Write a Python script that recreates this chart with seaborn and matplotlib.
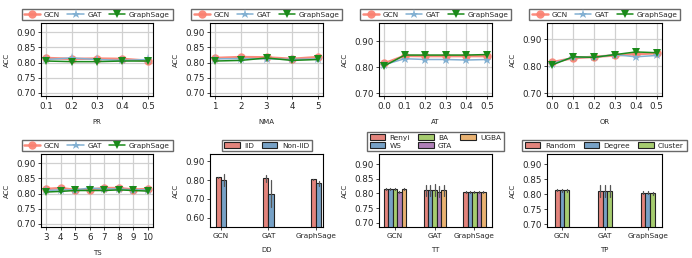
import matplotlib
matplotlib.use("Agg")
import matplotlib.pyplot as plt
import seaborn as sns
import pandas as pd

sns.set_style("ticks")
plt.rcParams['font.family'] = ['DejaVu Sans']

models = ["GCN", "GAT", "GraphSage"]

# ---- line panels ----
pr_x = [0.1, 0.2, 0.3, 0.4, 0.5]
pr_gcn = [0.815, 0.812, 0.813, 0.812, 0.806]
pr_gat = [0.810, 0.815, 0.810, 0.807, 0.810]
pr_sage = [0.805, 0.803, 0.803, 0.805, 0.805]

nma_x = [1, 2, 3, 4, 5]
nma_gcn = [0.815, 0.818, 0.817, 0.812, 0.818]
nma_gat = [0.812, 0.813, 0.812, 0.810, 0.812]
nma_sage = [0.805, 0.807, 0.815, 0.807, 0.810]

at_x = [0.0, 0.1, 0.2, 0.3, 0.4, 0.5]
at_gcn = [0.815, 0.844, 0.843, 0.843, 0.843, 0.843]
at_gat = [0.810, 0.833, 0.830, 0.830, 0.828, 0.830]
at_sage = [0.805, 0.847, 0.847, 0.847, 0.847, 0.849]

or_x = [0.0, 0.1, 0.2, 0.3, 0.4, 0.5]
or_gcn = [0.815, 0.830, 0.835, 0.840, 0.845, 0.848]
or_gat = [0.810, 0.833, 0.833, 0.843, 0.835, 0.840]
or_sage = [0.805, 0.835, 0.833, 0.843, 0.853, 0.850]

ts_x = [3, 4, 5, 6, 7, 8, 9, 10]
ts_gcn = [0.815, 0.818, 0.812, 0.813, 0.818, 0.818, 0.813, 0.815]
ts_gat = [0.810, 0.812, 0.812, 0.818, 0.815, 0.815, 0.812, 0.812]
ts_sage = [0.805, 0.807, 0.810, 0.810, 0.810, 0.812, 0.810, 0.808]

# ---- bar panels ----
dd_types = ["IID", "Non-IID"]
dd_mean = {"IID": [0.815, 0.810, 0.805], "Non-IID": [0.800, 0.728, 0.783]}
dd_err = {"IID": [0.004, 0.018, 0.004], "Non-IID": [0.032, 0.072, 0.015]}

tt_types = ["Renyi", "WS", "BA", "GTA", "UGBA"]
tt_mean = {"Renyi": [0.815, 0.810, 0.805], "WS": [0.815, 0.810, 0.804],
           "BA": [0.815, 0.812, 0.804], "GTA": [0.804, 0.806, 0.804],
           "UGBA": [0.815, 0.810, 0.804]}
tt_err = {"Renyi": [0.004, 0.020, 0.004], "WS": [0.004, 0.020, 0.004],
          "BA": [0.004, 0.020, 0.004], "GTA": [0.003, 0.018, 0.004],
          "UGBA": [0.004, 0.018, 0.003]}

tp_types = ["Random", "Degree", "Cluster"]
tp_mean = {"Random": [0.815, 0.812, 0.805], "Degree": [0.813, 0.810, 0.805],
           "Cluster": [0.813, 0.810, 0.803]}
tp_err = {"Random": [0.004, 0.020, 0.005], "Degree": [0.004, 0.020, 0.005],
          "Cluster": [0.004, 0.020, 0.005]}

line_colors = {"GCN": "#FA7F6F", "GAT": "#82B0D2", "GraphSage": "#1A8A1A"}
line_markers = {"GCN": "o", "GAT": "*", "GraphSage": "v"}
bar_colors = ["#F4756B", "#6AA2D3", "#A9DB5F", "#B576C0", "#FDB35E"]

W, H = 692, 258
fig = plt.figure(figsize=(W / 100, H / 100), dpi=100)


def box(x0, x1, y0, y1):
    return [x0 / W, 1 - y1 / H, (x1 - x0) / W, (y1 - y0) / H]


cols = [(41, 153), (210, 323), (379, 492), (547, 662)]
rows = [(23, 96), (154, 227)]

TICK = 6.3
LAB = 5.0
LEG = 5.3


def style_ax(ax, xlabel, xtick=TICK):
    ax.set_xlabel(xlabel, fontsize=LAB, labelpad=6)
    ax.set_ylabel("ACC", fontsize=LAB)
    ax.tick_params(axis="y", labelsize=TICK, length=2.5, width=0.6, pad=1.5)
    ax.tick_params(axis="x", labelsize=xtick, length=2.5, width=0.6, pad=1.5)
    for lbl in ax.get_xticklabels():
        lbl.set_fontsize(xtick)
    for s in ax.spines.values():
        s.set_linewidth(0.8)
        s.set_color("black")


def line_panel(ax, x, gcn, gat, sage, xlabel, ylim, yticks):
    series = {"GCN": gcn, "GAT": gat, "GraphSage": sage}
    for name, vals in series.items():
        df = pd.DataFrame({"x": x, "acc": vals})
        lw = 1.8 if name == "GCN" else 1.1
        ms = 6 if name != "GAT" else 6.5
        sns.lineplot(data=df, x="x", y="acc", ax=ax, color=line_colors[name],
                     marker=line_markers[name], markersize=ms, linewidth=lw,
                     markeredgewidth=0, label=name,
                     alpha=0.9 if name == "GCN" else 1.0)
    ax.set_xticks(x)
    ax.set_ylim(*ylim)
    ax.set_yticks(yticks)
    ax.set_yticklabels([f"{v:.2f}" for v in yticks])
    ax.grid(True, color="#d0d0d0", linewidth=0.9)
    ax.set_axisbelow(True)
    style_ax(ax, xlabel)
    ax.legend(loc="lower center", bbox_to_anchor=(0.5, 1.0), ncol=3,
              fontsize=LEG, frameon=True, edgecolor="#444444", fancybox=False,
              handlelength=2.2, columnspacing=1.0, handletextpad=0.5,
              borderpad=0.35, borderaxespad=0.35)


def bar_panel(ax, types, means, errs, xlabel, ylim, yticks, xlim, ncol):
    rows_ = []
    for t in types:
        for m, mu, e in zip(models, means[t], errs[t]):
            rows_.append({"model": m, "type": t, "acc": mu - e})
            rows_.append({"model": m, "type": t, "acc": mu + e})
    df = pd.DataFrame(rows_)
    pal = dict(zip(types, bar_colors[:len(types)]))
    sns.barplot(data=df, x="model", y="acc", hue="type", hue_order=types,
                order=models, estimator="mean",
                errorbar=lambda v: (v.min(), v.max()),
                palette=pal, width=0.112 * len(types), gap=0,
                edgecolor="#222222", linewidth=0.8,
                err_kws={"color": "#555555", "linewidth": 0.9}, ax=ax)
    ax.set_ylim(*ylim)
    ax.set_yticks(yticks)
    ax.set_yticklabels([f"{v:.2f}" for v in yticks])
    ax.set_xlim(*xlim)
    style_ax(ax, xlabel, xtick=5.3)
    ax.legend(loc="lower center", bbox_to_anchor=(0.5, 1.0), ncol=ncol,
              fontsize=LEG, frameon=True, edgecolor="#444444", fancybox=False,
              handlelength=2.1, handleheight=0.9, columnspacing=1.1,
              handletextpad=0.6, borderpad=0.35, borderaxespad=0.35,
              labelspacing=0.2)


yt5 = [0.70, 0.75, 0.80, 0.85, 0.90]
yt10 = [0.70, 0.80, 0.90]

ax = fig.add_axes(box(*cols[0], *rows[0]))
line_panel(ax, pr_x, pr_gcn, pr_gat, pr_sage, "PR", (0.69, 0.93), yt5)
ax = fig.add_axes(box(*cols[1], *rows[0]))
line_panel(ax, nma_x, nma_gcn, nma_gat, nma_sage, "NMA", (0.69, 0.93), yt5)
ax = fig.add_axes(box(*cols[2], *rows[0]))
line_panel(ax, at_x, at_gcn, at_gat, at_sage, "AT", (0.69, 0.97), yt10)
ax = fig.add_axes(box(*cols[3], *rows[0]))
line_panel(ax, or_x, or_gcn, or_gat, or_sage, "OR", (0.69, 0.96), yt10)

ax = fig.add_axes(box(*cols[0], *rows[1]))
line_panel(ax, ts_x, ts_gcn, ts_gat, ts_sage, "TS", (0.69, 0.93), yt5)
ax = fig.add_axes(box(*cols[1], *rows[1]))
bar_panel(ax, dd_types, dd_mean, dd_err, "DD", (0.55, 0.94),
          [0.60, 0.70, 0.80, 0.90], (-0.23, 2.15), 2)
ax = fig.add_axes(box(*cols[2], *rows[1]))
bar_panel(ax, tt_types, tt_mean, tt_err, "TT", (0.685, 0.935), yt5,
          (-0.40, 2.44), 3)
ax = fig.add_axes(box(*cols[3], *rows[1]))
bar_panel(ax, tp_types, tp_mean, tp_err, "TP", (0.69, 0.935), yt5,
          (-0.35, 2.33), 3)

fig.savefig("out.png", dpi=100)
